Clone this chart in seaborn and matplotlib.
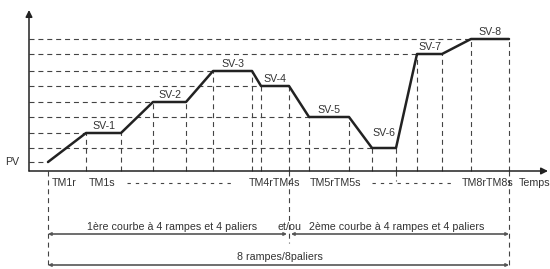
import numpy as np
import pandas as pd
import matplotlib.pyplot as plt
import seaborn as sns

# ==========================================
# données du profil (origine = coin des axes)
# ==========================================
temps = [19, 57, 92, 124, 157, 184, 223, 232, 260, 280, 320, 343, 367, 388, 413, 442, 480]
niveaux = [9, 38, 38, 69, 69, 100, 100, 85, 85, 54, 54, 23, 23, 117, 117, 132, 132]
sv_noms = ["SV-1", "SV-2", "SV-3", "SV-4", "SV-5", "SV-6", "SV-7", "SV-8"]
tm_noms = ["TM1r", "TM1s", "TM4rTM4s", "TM5rTM5s", "TM8rTM8s", "Temps"]
tm_x = [23, 60, 220, 281, 433, 490]
courbes = ["1ère courbe à 4 rampes et 4 paliers", "et/ou",
           "2ème courbe à 4 rampes et 4 paliers", "8 rampes/8paliers"]

df = pd.DataFrame({"t": temps, "sv": niveaux})

sns.set_style("white")
plt.rcParams['font.family'] = ['Liberation Sans', 'DejaVu Sans']

fig = plt.figure(figsize=(5.5, 2.69), dpi=100)
ax = fig.add_axes([0, 0, 1, 1])
ax.set_xlim(-29, 521)
ax.set_ylim(-98, 171)
ax.axis("off")

txt = dict(fontsize=7.7, color="#333333", ha="center", va="center")
dash = dict(color="#444444", lw=0.8, dashes=(4.5, 3.5))

# lignes de repère en pointillés
ax.plot([0, temps[0]], [niveaux[0]] * 2, **dash)
for i in range(8):
    a, b = 1 + 2 * i, 2 + 2 * i
    lvl = niveaux[a]
    ax.plot([0, temps[a]], [lvl, lvl], **dash)
    for k in (a, b):
        ax.plot([temps[k]] * 2, [0, lvl], **dash)
    dy = 15 if i == 5 else 7
    ax.text((temps[a] + temps[b]) / 2, lvl + dy, sv_noms[i], **txt)

# verticales prolongées sous l'axe du temps
ax.plot([temps[0]] * 2, [0, -98], **dash)
ax.plot([temps[8]] * 2, [0, -72], **dash)
ax.plot([temps[12]] * 2, [0, -10], **dash)
ax.plot([temps[16]] * 2, [0, -98], **dash)

# profil
sns.lineplot(data=df, x="t", y="sv", sort=False, estimator=None,
             color="#222222", lw=1.8, ax=ax, legend=False)

# axes avec flèches
head = dict(arrowstyle="-|>", color="#222222", lw=1.1, mutation_scale=10,
            shrinkA=0, shrinkB=0)
ax.annotate("", xy=(0, 161), xytext=(0, 0), arrowprops=head)
ax.annotate("", xy=(519, 0), xytext=(0, 0), arrowprops=head)
ax.text(-17, niveaux[0], "PV", **txt)

# étiquettes des temps
for nom, x in zip(tm_noms, tm_x):
    ax.text(x, -12, nom, **{**txt, "ha": "left"})
sdash = dict(color="#444444", lw=0.8, dashes=(3, 4.5))
ax.plot([98, 204], [-12, -12], **sdash)
ax.plot([343, 424], [-12, -12], **sdash)

# cotes
cote = dict(arrowstyle="<|-|>", color="#555555", lw=1.2, mutation_scale=4,
            shrinkA=0, shrinkB=0)
ax.annotate("", xy=(temps[0], -63), xytext=(temps[8] - 2, -63), arrowprops=cote)
ax.annotate("", xy=(temps[8] + 2, -63), xytext=(temps[16], -63), arrowprops=cote)
ax.annotate("", xy=(temps[0], -94), xytext=(temps[16], -94), arrowprops=cote)
ax.text(143, -56, courbes[0], **txt)
ax.text(260, -56, courbes[1], **txt)
ax.text(368, -56, courbes[2], **txt)
ax.text(251, -86, courbes[3], **txt)

fig.savefig("out.png", dpi=100)
plt.close(fig)
